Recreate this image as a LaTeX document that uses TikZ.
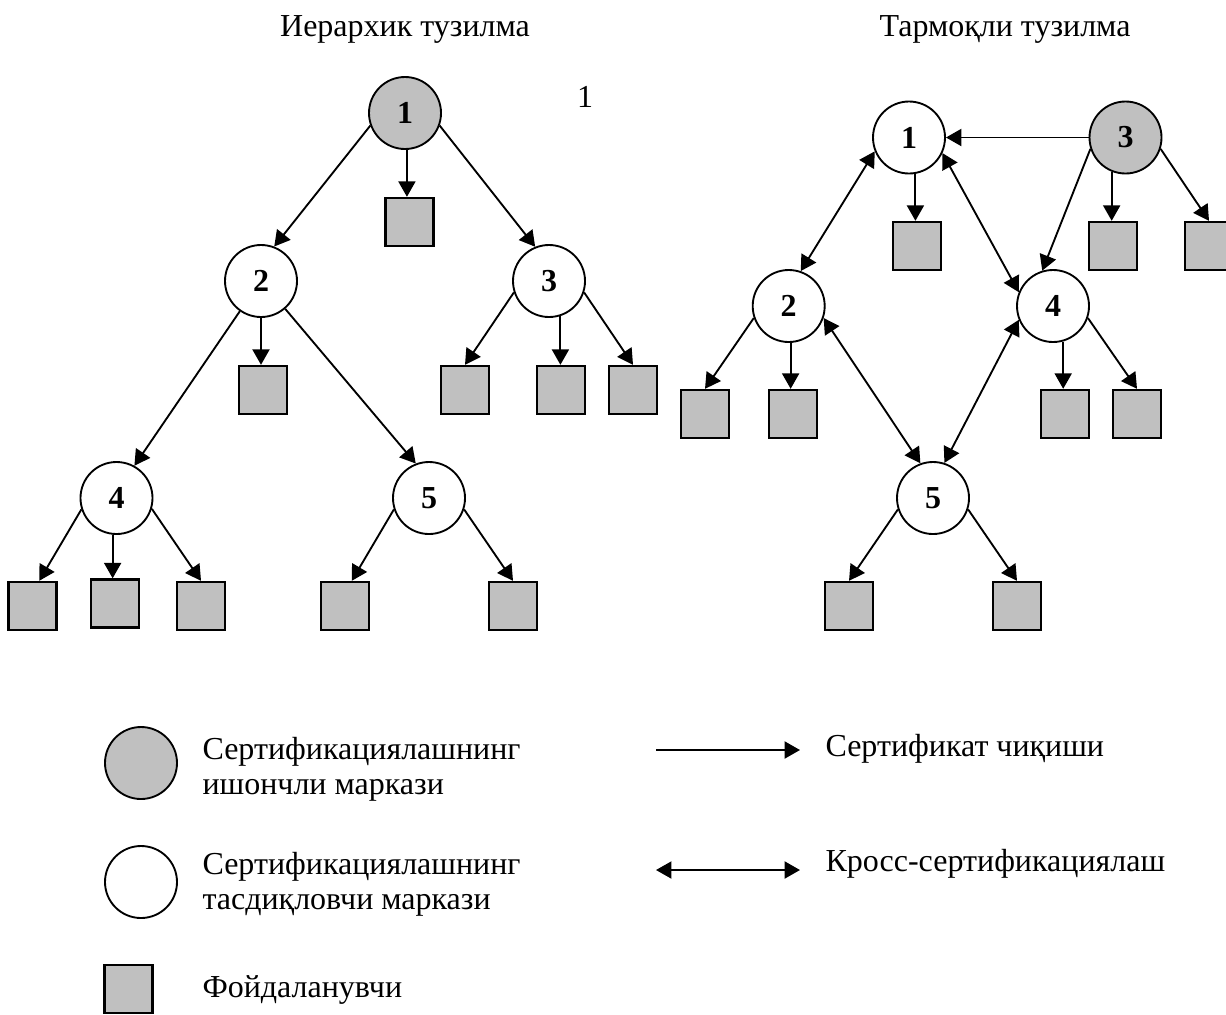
\documentclass[tikz,border=0pt]{standalone}
\usepackage{fontspec}
\setmainfont{Liberation Serif}
\usepackage{xcolor}
\usetikzlibrary{positioning, arrows.meta}
\definecolor{trust}{RGB}{192, 192, 192}

\begin{document}
\begin{tikzpicture}[
    x=0.375pt, y=-0.375pt,
    font=\fontsize{12}{13}\selectfont,
    >={Triangle[length=5.8pt, width=6.4pt]},
    ca/.style={
        circle,
        draw,
        line width=0.7pt,
        minimum size=27pt,
        inner sep=0pt,
        fill=#1,
        font=\fontsize{12}{13}\selectfont\bfseries
    },
    ca/.default=white,
    user/.style={
        draw,
        line width=0.9pt,
        fill=trust,
        minimum size=18pt,
        inner sep=0pt
    },
    title/.style={anchor=base},
    legtext/.style={anchor=base west, align=left, inner sep=0pt},
    issue/.style={->, line width=0.7pt},
    cross/.style={<->, line width=0.7pt}
]
\useasboundingbox (0,0) rectangle (1226,1014);
\clip (0,0) rectangle (1226,1014);

% === Titles ===
\node[title] (ttree) at (405,36) {Иерархик тузилма};
\node[title] (tnet) at (1005,36) {Тармоқли тузилма};
\node[title] (tone) at (585,107) {1};

% === Hierarchical structure ===
\node[ca=trust] (l1) at (405,113) {1};
\node[ca] (l2) at (261,281) {2};
\node[ca] (l3) at (549,281) {3};
\node[ca] (l4) at (116.5,498) {4};
\node[ca] (l5) at (429,498) {5};

\node[user] (l1u) at (409.5,222) {};
\node[user] (l2u) at (263,390) {};
\node[user] (l3ua) at (465,390) {};
\node[user] (l3ub) at (561,390) {};
\node[user] (l3uc) at (633,390) {};
\node[user] (l4ua) at (32.5,606) {};
\node[user] (l4ub) at (115,603.5) {};
\node[user] (l4uc) at (201,606) {};
\node[user] (l5ua) at (345,606) {};
\node[user] (l5ub) at (513,606) {};

\draw[issue] (l1.200) -- (l2.69);
\draw[issue] (l1.340) -- (l3.112);
\draw[issue] (l1.-87) -- (l1.-87 |- l1u.north);
\draw[issue] (l2.235) -- (l4.61);
\draw[issue] (l2.311) -- (l5.111);
\draw[issue] (l2.south) -- (l2.south |- l2u.north);
\draw[issue] (l3.198) -- (l3ua.north);
\draw[issue] (l3.-72) -- (l3.-72 |- l3ub.north);
\draw[issue] (l3.342) -- (l3uc.north);
\draw[issue] (l4.198) -- (l4ua.75);
\draw[issue] (l4.-96) -- (l4.-96 |- l4ub.north);
\draw[issue] (l4.343) -- (l4uc.north);
\draw[issue] (l5.198) -- (l5ua.75);
\draw[issue] (l5.342) -- (l5ub.north);

% === Network structure ===
\node[ca] (r1) at (909,137.5) {1};
\node[ca=trust] (r3) at (1125.5,137.5) {3};
\node[ca] (r2) at (788.7,306) {2};
\node[ca] (r4) at (1053,306) {4};
\node[ca] (r5) at (933,498) {5};

\node[user] (r1u) at (917,246) {};
\node[user] (r3ua) at (1113,246) {};
\node[user] (r3ub) at (1209,246) {};
\node[user] (r2ua) at (705,414) {};
\node[user] (r2ub) at (793,414) {};
\node[user] (r4ua) at (1065,414) {};
\node[user] (r4ub) at (1137,414) {};
\node[user] (r5ua) at (849,606) {};
\node[user] (r5ub) at (1017,606) {};

\draw[issue] (r3.west) -- (r1.east);
\draw[issue] (r3.198) -- (r4.107);
\draw[issue] (r3.-112) -- (r3.-112 |- r3ua.north);
\draw[issue] (r3.342) -- (r3ub.north);
\draw[issue] (r1.-80) -- (r1.-80 |- r1u.north);
\draw[cross] (r1.202) -- (r2.71);
\draw[cross] (r1.335) -- (r4.158);
\draw[issue] (r2.199) -- (r2ua.north);
\draw[issue] (r2.-87) -- (r2.-87 |- r2ub.north);
\draw[cross] (r2.341) -- (r5.110);
\draw[cross] (r4.202) -- (r5.72);
\draw[issue] (r4.-74) -- (r4.-74 |- r4ua.north);
\draw[issue] (r4.341) -- (r4ub.north);
\draw[issue] (r5.198) -- (r5ua.north);
\draw[issue] (r5.342) -- (r5ub.north);

% === Legend ===
\node[ca=trust] (kroot) at (141,763) {};
\node[ca] (kca) at (141,882) {};
\node[user] (kuser) at (128.5,989) {};

\node[legtext] (troot) at (202,794) {Сертификациялашнинг\\ишончли маркази};
\node[legtext] (tca) at (202,909) {Сертификациялашнинг\\тасдиқловчи маркази};
\node[legtext] (tuser) at (202,997) {Фойдаланувчи};

\coordinate (ia) at (656,750);
\coordinate (ib) at (800,750);
\coordinate (ca) at (656,870);
\coordinate (cb) at (800,870);
\draw[issue] (ia) -- (ib);
\draw[cross] (ca) -- (cb);
\node[legtext] (tissue) at (825,756) {Сертификат чиқиши};
\node[legtext] (tcross) at (825,871) {Кросс-сертификациялаш};

\end{tikzpicture}
\end{document}
